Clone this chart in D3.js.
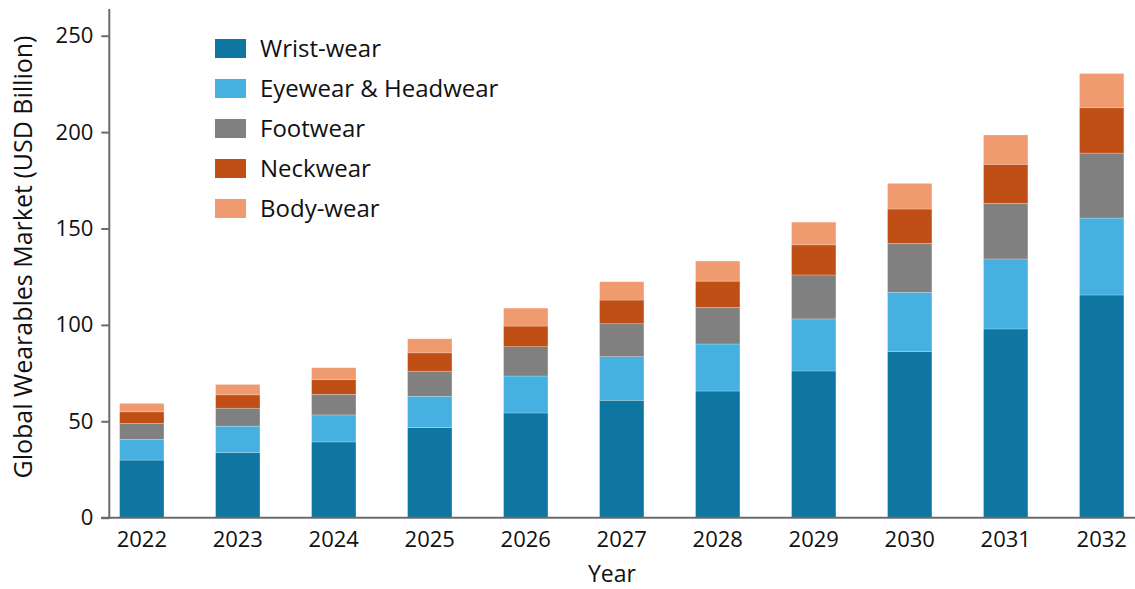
<!DOCTYPE html>
<html>
<head>
<meta charset="utf-8">
<script src="https://cdn.jsdelivr.net/npm/d3@7"></script>
<style>
  body { margin:0; background:#fff; }
  text { font-family:"Open Sans", sans-serif; fill:#111; }
</style>
</head>
<body>
<svg id="chart" width="1135" height="589"></svg>
<script>

// data
var years = ["2022","2023","2024","2025","2026","2027","2028","2029","2030","2031","2032"];
var seriesNames = ["Wrist-wear","Eyewear & Headwear","Footwear","Neckwear","Body-wear"];
var wrist    = [29.9, 33.7, 39.3, 46.7, 54.3, 60.9, 65.7, 76.1, 86.1, 97.9, 115.5];
var eyewear  = [10.7, 13.8, 14.0, 16.3, 19.2, 22.6, 24.4, 27.0, 30.8, 36.3, 39.9];
var footwear = [ 8.3,  9.3, 10.7, 13.0, 15.2, 17.1, 19.0, 22.8, 25.4, 28.9, 33.7];
var neckwear = [ 6.0,  6.9,  7.6,  9.5, 10.7, 12.3, 13.6, 15.6, 17.8, 20.2, 23.5];
var bodywear = [ 4.4,  5.4,  6.2,  7.3,  9.3,  9.5, 10.4, 11.8, 13.3, 15.2, 17.8];
var totalLabels = ["61","70","79","94","109","123","134","154","173","199","231"];
var yTicks = [0, 50, 100, 150, 200, 250];

var colors = ["#0e76a0","#46b1e1","#808080","#c04f15","#f09a6f"];

// build rows for d3.stack
var rows = years.map(function(y, i){
  return {
    year: y,
    "Wrist-wear": wrist[i],
    "Eyewear & Headwear": eyewear[i],
    "Footwear": footwear[i],
    "Neckwear": neckwear[i],
    "Body-wear": bodywear[i]
  };
});

var svg = d3.select("#chart");

var baseY = 517.7;
var x = d3.scaleBand()
  .domain(years)
  .range([93.8, 1149.7])
  .paddingInner(0.538)
  .paddingOuter(0.269);

var y = d3.scaleLinear()
  .domain([0, 250])
  .range([baseY, 35.7]);

var color = d3.scaleOrdinal().domain(seriesNames).range(colors);

var stacked = d3.stack().keys(seriesNames)(rows);

// bars
var layers = svg.append("g").attr("class","bars")
  .selectAll("g")
  .data(stacked)
  .enter().append("g")
    .attr("fill", function(d){ return color(d.key); });

layers.selectAll("rect")
  .data(function(d){ return d; })
  .enter().append("rect")
    .attr("x", function(d){ return x(d.data.year); })
    .attr("width", x.bandwidth())
    .attr("y", function(d){ return y(d[1]); })
    .attr("height", function(d){ return y(d[0]) - y(d[1]); })
    .attr("stroke", "#ffffff")
    .attr("stroke-opacity", 0.35)
    .attr("stroke-width", 0.6);

// total labels on top
var top = stacked[stacked.length-1];
svg.append("g").selectAll("text")
  .data(top)
  .enter().append("text")
    .attr("x", function(d){ return x(d.data.year) + x.bandwidth()/2; })
    .attr("y", function(d){ return y(d[1]) - 10; })
    .attr("text-anchor","middle")
    .style("font-size","22px")
    .text(function(d, i){ return totalLabels[i]; });

// y axis
var yAxis = d3.axisLeft(y).tickValues(yTicks).tickSize(8).tickPadding(8);
var gy = svg.append("g")
  .attr("transform","translate(109.3,0)")
  .call(yAxis);
gy.select(".domain").remove();
gy.selectAll(".tick line").attr("stroke","#6b6b6b").attr("stroke-width",2);
gy.selectAll(".tick text").style("font-size","22px").attr("fill","#111");

// x axis
var xAxis = d3.axisBottom(x).tickSize(0).tickPadding(14);
var gx = svg.append("g")
  .attr("transform","translate(0,"+baseY+")")
  .call(xAxis);
gx.select(".domain").remove();
gx.selectAll(".tick text").style("font-size","22px").attr("fill","#111");

// axis lines
svg.append("line")
  .attr("x1",109.3).attr("x2",109.3)
  .attr("y1",9).attr("y2",baseY+1)
  .attr("stroke","#6b6b6b").attr("stroke-width",2);
svg.append("line")
  .attr("x1",101).attr("x2",1135)
  .attr("y1",baseY).attr("y2",baseY)
  .attr("stroke","#6b6b6b").attr("stroke-width",2);

// axis titles
svg.append("text")
  .attr("transform","translate(32,257) rotate(-90)")
  .attr("text-anchor","middle")
  .style("font-size","25px")
  .text("Global Wearables Market (USD Billion)");

svg.append("text")
  .attr("x",612).attr("y",582)
  .attr("text-anchor","middle")
  .style("font-size","23px")
  .text("Year");

// legend
var legend = svg.append("g").attr("transform","translate(215,39)")
  .selectAll("g")
  .data(seriesNames)
  .enter().append("g")
    .attr("transform", function(d, i){ return "translate(0,"+(i*40)+")"; });

legend.append("rect")
  .attr("width",31).attr("height",19)
  .attr("fill", function(d){ return color(d); });

legend.append("text")
  .attr("x",45).attr("y",9.5)
  .attr("dy","0.35em")
  .style("font-size","24px")
  .text(function(d){ return d; });

</script>
</body>
</html>
